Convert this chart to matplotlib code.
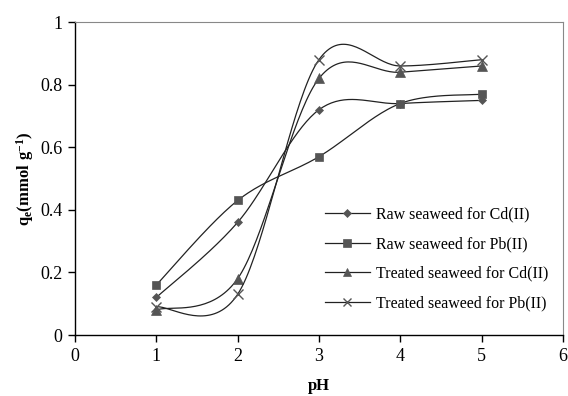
import numpy as np
import matplotlib
matplotlib.use('Agg')
import matplotlib.pyplot as plt

plt.rcParams['font.family'] = ['Liberation Serif', 'DejaVu Serif']
plt.rcParams['mathtext.fontset'] = 'custom'
plt.rcParams['mathtext.rm'] = 'Liberation Serif'
plt.rcParams['mathtext.bf'] = 'Liberation Serif:bold'

ph = [1, 2, 3, 4, 5]
raw_cd = [0.12, 0.36, 0.72, 0.74, 0.75]
raw_pb = [0.16, 0.43, 0.57, 0.74, 0.77]
treated_cd = [0.08, 0.18, 0.82, 0.84, 0.86]
treated_pb = [0.09, 0.13, 0.88, 0.86, 0.88]
labels = ['Raw seaweed for Cd(II)', 'Raw seaweed for Pb(II)',
          'Treated seaweed for Cd(II)', 'Treated seaweed for Pb(II)']


def smooth(x, y, n=40):
    # excel-like smoothed line: cubic bezier through the points
    p = np.column_stack([x, y]).astype(float)
    xs, ys = [], []
    t = np.linspace(0, 1, n)[:, None]
    for i in range(len(p) - 1):
        p0 = p[i - 1] if i > 0 else p[i]
        p3 = p[i + 2] if i + 2 < len(p) else p[i + 1]
        c1 = p[i] + (p[i + 1] - p0) / 6.0
        c2 = p[i + 1] - (p3 - p[i]) / 6.0
        b = ((1 - t) ** 3) * p[i] + 3 * ((1 - t) ** 2) * t * c1 + 3 * (1 - t) * t ** 2 * c2 + t ** 3 * p[i + 1]
        xs.extend(b[:, 0])
        ys.extend(b[:, 1])
    return np.array(xs), np.array(ys)


fig = plt.figure(figsize=(5.68, 3.96), dpi=100)
ax = fig.add_axes([0.132, 0.154, 0.859, 0.790])

series = [raw_cd, raw_pb, treated_cd, treated_pb]
markers = ['D', 's', '^', 'x']
msizes = [4.5, 6, 6.5, 7]
mc = '#555555'
for y, m, ms in zip(series, markers, msizes):
    sx, sy = smooth(ph, y)
    ax.plot(sx, sy, color='#222222', lw=0.9)
    ax.plot(ph, y, linestyle='none', marker=m, ms=ms,
            color=mc, mec=mc, mew=1.0 if m == 'x' else 0.5)

handles = []
for m, ms, lab in zip(markers, msizes, labels):
    h, = ax.plot([], [], color='#222222', lw=0.9, marker=m,
                 ms=ms * 0.9, mfc=mc, mec=mc,
                 mew=1.0 if m == 'x' else 0.5, label=lab)
    handles.append(h)

ax.legend(handles=handles, loc='lower right', bbox_to_anchor=(1.0, 0.03),
          frameon=False, fontsize=11.5, handlelength=2.8, labelspacing=0.85,
          handletextpad=0.4)

ax.set_xlim(0, 6)
ax.set_ylim(0, 1)
ax.set_xticks(range(0, 7))
ax.set_yticks([0, 0.2, 0.4, 0.6, 0.8, 1])
ax.set_yticklabels(['0', '0.2', '0.4', '0.6', '0.8', '1'])
ax.tick_params(labelsize=13, direction='out', length=5, width=1, pad=4)
ax.spines['top'].set_color('#888888')
ax.spines['right'].set_color('#888888')
ax.spines['left'].set_linewidth(1.0)
ax.spines['bottom'].set_linewidth(1.0)

ax.set_xlabel('pH', fontsize=12, fontweight='bold', labelpad=10)
ax.set_ylabel(r'$\mathbf{q_e(mmol\ g^{-1})}$', fontsize=12, labelpad=3)

fig.savefig('out.png', dpi=100)
